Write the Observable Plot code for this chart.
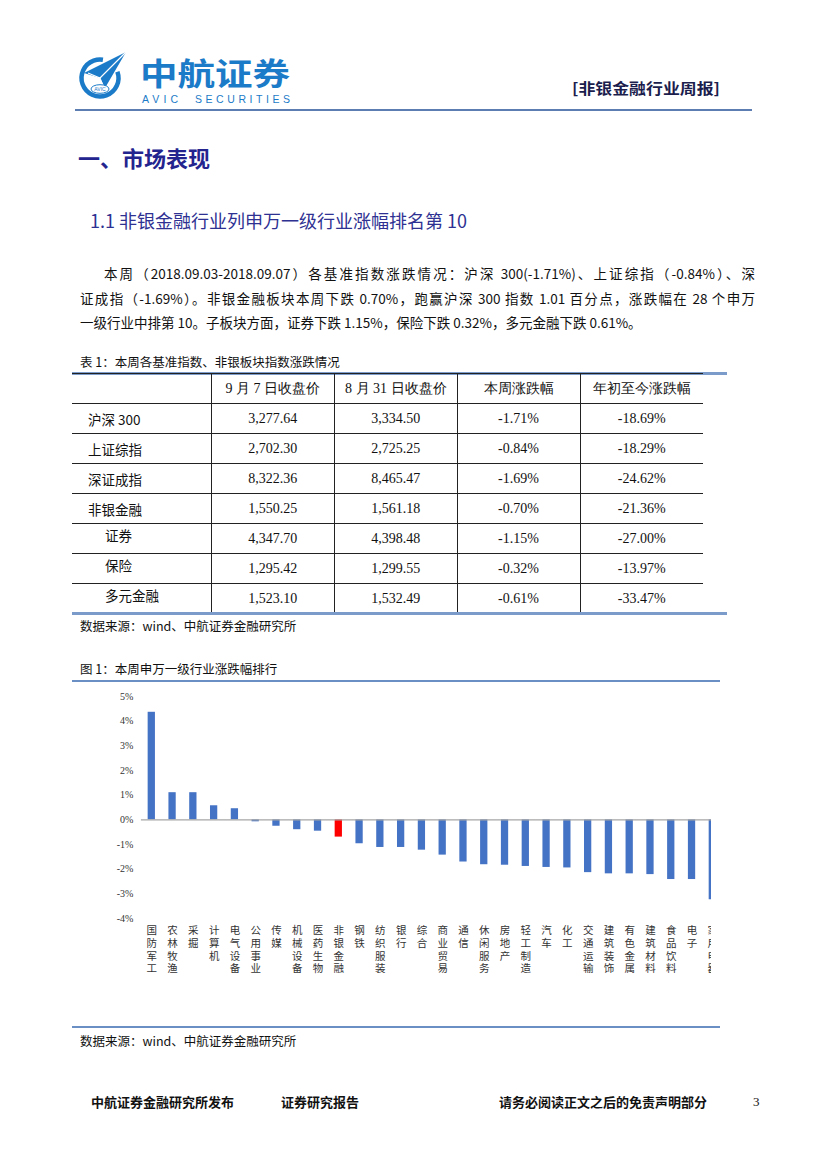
<!DOCTYPE html>
<html>
<head>
<meta charset="utf-8">
<script src="https://cdn.jsdelivr.net/npm/d3@7"></script>
<script src="https://cdn.jsdelivr.net/npm/@observablehq/plot@0.6"></script>
<style>
  html, body { margin: 0; padding: 0; background: #fff; }
  #page { position: relative; width: 827px; height: 1169px; background: #fff; overflow: hidden;
          font-family: "Noto Sans CJK SC", "Noto Sans", sans-serif; color: #111; }
  .abs { position: absolute; white-space: nowrap; }
  .pline { position: absolute; left: 80px; width: 675px; height: 24.5px; line-height: 24.5px;
           font-size: 13.5px; text-align: justify; text-align-last: justify; white-space: normal; }
  .cap { font-size: 12.5px; line-height: 14px; }
  .hl { position: absolute; }
  table.t { position: absolute; left: 72px; top: 373px; border-collapse: collapse; table-layout: fixed; }
  table.t td { height: 29px; padding: 0; text-align: center; vertical-align: middle;
               border-top: 1px solid #222; border-left: 1px solid #222; font-family: "Liberation Serif", serif; font-size: 14px; }
  table.t tr:first-child td { border-top: none; font-family: "Noto Sans CJK SC", sans-serif; font-size: 13px; color: #222; }
  table.t td:first-child { border-left: none; text-align: left; font-family: "Noto Sans CJK SC", sans-serif; font-size: 13.5px; }
  .foot { font-size: 13px; font-weight: 700; line-height: 14px; }
</style>
</head>
<body>
<div id="page">
  <svg class="abs" style="left:0;top:0" width="827" height="120">
    <!-- emblem -->
    <circle cx="100" cy="78" r="18.5" fill="none" stroke="#1b7bc8" stroke-width="4.5" stroke-dasharray="96 20" transform="rotate(-20 100 78)"/>
    <polygon points="84,73 126,52 105,88 100,78" fill="#1b7bc8"/>
    <polyline points="88,73 100,78 126,52" fill="none" stroke="#fff" stroke-width="1.2"/>
    <polyline points="100,78 103,85" fill="none" stroke="#fff" stroke-width="1"/>
    <ellipse cx="100" cy="89" rx="9" ry="4.3" fill="#fff" stroke="#1b7bc8" stroke-width="1"/>
    <text x="100" y="91" font-size="5" text-anchor="middle" fill="#1b7bc8" font-family="Liberation Sans">AVIC</text>
    <text x="140" y="85" font-size="31" font-weight="700" fill="#1b7bc8" textLength="150" lengthAdjust="spacingAndGlyphs" font-family="Noto Sans CJK SC">中航证券</text>
    <text x="142" y="102.5" font-size="10.5" fill="#1b7bc8" textLength="36" lengthAdjust="spacing" font-family="Liberation Sans">AVIC</text>
    <text x="195" y="102.5" font-size="10.5" fill="#1b7bc8" textLength="95" lengthAdjust="spacing" font-family="Liberation Sans">SECURITIES</text>
    <text x="572" y="94" font-size="14.5" font-weight="700" fill="#1b1d4d" textLength="148" lengthAdjust="spacingAndGlyphs" font-family="Noto Sans CJK SC">[非银金融行业周报]</text>
    <line x1="75" y1="110" x2="752" y2="110" stroke="#5b7db1" stroke-width="2"/>
  </svg>

  <div class="abs" style="left:78px;top:145px;font-size:22px;line-height:24px;font-weight:700;color:#24248f;">一、市场表现</div>
  <div class="abs" style="left:90px;top:210px;font-size:18px;line-height:20px;color:#2e3192;">1.1 非银金融行业列申万一级行业涨幅排名第 10</div>

  <div class="pline" style="top:261px;padding-left:24px;width:651px;">本周（2018.09.03-2018.09.07）各基准指数涨跌情况：沪深 300(-1.71%)、上证综指（-0.84%）、深</div>
  <div class="pline" style="top:285.5px;">证成指（-1.69%）。非银金融板块本周下跌 0.70%，跑赢沪深 300 指数 1.01 百分点，涨跌幅在 28 个申万</div>
  <div class="pline" style="top:310px;text-align-last:left;">一级行业中排第 10。子板块方面，证券下跌 1.15%，保险下跌 0.32%，多元金融下跌 0.61%。</div>

  <div class="abs cap" style="left:80px;top:355px;">表 1：本周各基准指数、非银板块指数涨跌情况</div>
  <div class="hl" style="left:72px;top:371.5px;width:655px;height:3px;background:#7b9bcb;"></div>
  <div id="tbl"></div>
  <div class="hl" style="left:72px;top:612px;width:655px;height:3px;background:#7b9bcb;"></div>
  <div class="abs cap" style="left:80px;top:619px;">数据来源：wind、中航证券金融研究所</div>

  <div class="abs cap" style="left:80px;top:662px;">图 1：本周申万一级行业涨跌幅排行</div>
  <div class="hl" style="left:72px;top:679.5px;width:648px;height:2px;background:#6a8fc4;"></div>
  <div id="chart" class="abs" style="left:0;top:686px;width:710.5px;height:300px;overflow:hidden;"></div>
  <div class="hl" style="left:72px;top:1026px;width:648px;height:2px;background:#6a8fc4;"></div>
  <div class="abs cap" style="left:80px;top:1034px;">数据来源：wind、中航证券金融研究所</div>

  <div class="abs foot" style="left:91px;top:1095px;">中航证券金融研究所发布</div>
  <div class="abs foot" style="left:281px;top:1095px;">证券研究报告</div>
  <div class="abs foot" style="left:499px;top:1095px;">请务必阅读正文之后的免责声明部分</div>
  <div class="abs" style="left:753px;top:1094px;font-family:'Liberation Serif',serif;font-size:13px;">3</div>
</div>

<script>
// ---- Table data ----
const tableHeaders = ["", "9 月 7 日收盘价", "8 月 31 日收盘价", "本周涨跌幅", "年初至今涨跌幅"];
const indexNames = ["沪深 300", "上证综指", "深证成指", "非银金融", "证券", "保险", "多元金融"];
const subIndex = [false, false, false, false, true, true, true];
const closeSep7 = ["3,277.64", "2,702.30", "8,322.36", "1,550.25", "4,347.70", "1,295.42", "1,523.10"];
const closeAug31 = ["3,334.50", "2,725.25", "8,465.47", "1,561.18", "4,398.48", "1,299.55", "1,532.49"];
const weekChange = ["-1.71%", "-0.84%", "-1.69%", "-0.70%", "-1.15%", "-0.32%", "-0.61%"];
const ytdChange = ["-18.69%", "-18.29%", "-24.62%", "-21.36%", "-27.00%", "-13.97%", "-33.47%"];

// ---- Chart data ----
const industries = ["国防军工","农林牧渔","采掘","计算机","电气设备","公用事业","传媒","机械设备","医药生物","非银金融",
  "钢铁","纺织服装","银行","综合","商业贸易","通信","休闲服务","房地产","轻工制造","汽车","化工",
  "交通运输","建筑装饰","有色金属","建筑材料","食品饮料","电子","家用电器"];
const weeklyChange = [4.36, 1.10, 1.10, 0.57, 0.45, -0.08, -0.26, -0.40, -0.46, -0.70,
  -0.97, -1.12, -1.12, -1.23, -1.43, -1.71, -1.82, -1.84, -1.89, -1.93, -1.95,
  -2.14, -2.19, -2.19, -2.22, -2.42, -2.42, -3.24];
const highlight = "非银金融";
const yTicks = [-4, -3, -2, -1, 0, 1, 2, 3, 4, 5];

// table build
(function () {
  const colW = [139, 123.5, 122.5, 123, 123];
  const t = document.createElement("table");
  t.className = "t";
  const cg = document.createElement("colgroup");
  colW.forEach(w => { const c = document.createElement("col"); c.style.width = w + "px"; cg.appendChild(c); });
  t.appendChild(cg);
  const hr = document.createElement("tr");
  tableHeaders.forEach(h => { const td = document.createElement("td"); td.textContent = h; hr.appendChild(td); });
  t.appendChild(hr);
  indexNames.forEach((n, i) => {
    const tr = document.createElement("tr");
    const cells = [n, closeSep7[i], closeAug31[i], weekChange[i], ytdChange[i]];
    cells.forEach((v, j) => {
      const td = document.createElement("td");
      if (j === 0) {
        td.style.paddingLeft = subIndex[i] ? "33px" : "16px";
        const s = document.createElement("span");
        s.textContent = v;
        if (subIndex[i]) { s.style.position = "relative"; s.style.top = "-4px"; }
        td.appendChild(s);
      } else td.textContent = v;
      tr.appendChild(td);
    });
    t.appendChild(tr);
  });
  t.style.width = colW.reduce((a, b) => a + b, 0) + "px";
  document.getElementById("tbl").appendChild(t);
})();

// chart build
const data = industries.map((name, i) => ({name, value: weeklyChange[i]}));
const chart = Plot.plot({
  width: 760,
  height: 300,
  marginLeft: 140.9,
  marginRight: 37.3,
  marginTop: 10,
  marginBottom: 68,
  style: {fontFamily: "Liberation Serif, serif", fontSize: "10px", color: "#333", background: "transparent"},
  x: {domain: industries, paddingInner: 0.65, paddingOuter: 0.325, round: false, axis: null},
  y: {domain: [-4, 5], ticks: yTicks, tickFormat: d => d + "%", tickSize: 0, tickPadding: 8, label: null},
  color: {type: "identity"},
  marks: [
    Plot.barY(data, {x: "name", y: "value", fill: d => d.name === highlight ? "#ff0000" : "#4472c4"}),
    Plot.ruleY([0], {stroke: "#a6a6a6", strokeWidth: 1.2}),
    Plot.text(industries, {
      x: d => d,
      text: d => d.split("").join("\n"),
      frameAnchor: "bottom",
      lineAnchor: "top",
      dy: 7,
      fontSize: 10.5,
      lineHeight: 1.2,
      fill: "#333",
      fontFamily: "Noto Sans CJK SC"
    })
  ]
});
chart.style.maxWidth = "none";
chart.style.overflow = "visible";
document.getElementById("chart").appendChild(chart);
</script>
</body>
</html>
